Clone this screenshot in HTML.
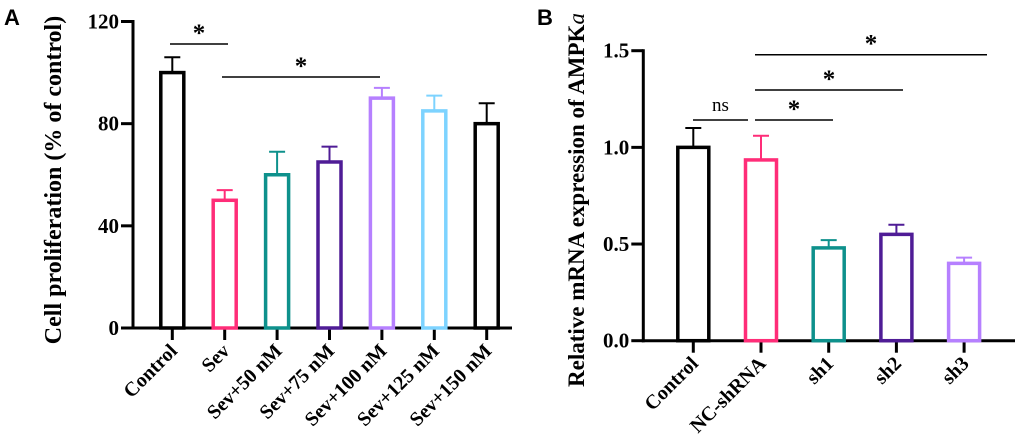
<!DOCTYPE html>
<html><head><meta charset="utf-8"><style>
body{margin:0;background:#fff;width:1020px;height:441px;overflow:hidden}
svg{display:block}
</style></head><body>
<svg id="chart" width="1020" height="441"></svg>
<script>
const catsA=["Control","Sev","Sev+50 nM","Sev+75 nM","Sev+100 nM","Sev+125 nM","Sev+150 nM"];
const valsA=[100,50,60,65,90,85,80];
const errA=[6,4,9,6,4,6,8];
const colorsA=["#000","#ff2d78","#0e918c","#4f1c96","#b680ff","#7dd3ff","#000"];
const ticksA=[0,40,80,120];
const catsB=["Control","NC-shRNA","sh1","sh2","sh3"];
const valsB=[1.0,0.935,0.48,0.55,0.40];
const errB=[0.10,0.125,0.04,0.05,0.03];
const colorsB=["#000","#ff2d78","#0e918c","#4f1c96","#b680ff"];
const ticksB=[0,0.5,1.0,1.5];
const tickLabelsB=["0.0","0.5","1.0","1.5"];

const svg=document.getElementById('chart');
const NS="http://www.w3.org/2000/svg";
const SERIF='font-family:"Liberation Serif",serif;font-weight:bold;';
function mk(tag,attrs,parent){const e=document.createElementNS(NS,tag);for(const k in attrs)e.setAttribute(k,attrs[k]);(parent||svg).appendChild(e);return e;}

function panel(cfg){
  const g=mk('g',{});
  
  
  const y=v=>cfg.y0-(v-cfg.ymin)/(cfg.ymax-cfg.ymin)*(cfg.y0-cfg.y1);
  const x=i=>cfg.xs+i*cfg.step;
  const ya=mk('line',{x1:cfg.ax,y1:y(cfg.ymax)-1.5,x2:cfg.ax,y2:cfg.y0+1.5,stroke:'#000','stroke-width':3},g);
  
  const xa=mk('line',{x1:cfg.ax-1.5,y1:cfg.y0,x2:cfg.xend,y2:cfg.y0,stroke:'#000','stroke-width':3},g);
  
  cfg.ticks.forEach((t,i)=>{
    mk('line',{x1:cfg.ax-12,y1:y(t),x2:cfg.ax,y2:y(t),stroke:'#000','stroke-width':3},g);
    const tl=mk('text',{x:cfg.ax-14,y:y(t)+7,'text-anchor':'end',style:SERIF+'font-size:21px'},g);
    tl.textContent=cfg.tickLabels?cfg.tickLabels[i]:t;
    
  });
  cfg.cats.forEach((c,i)=>{
    const cx=x(i);
    mk('line',{x1:cx,y1:cfg.y0,x2:cx,y2:cfg.y0+12,stroke:'#000','stroke-width':3},g);
    const top=y(cfg.vals[i]), et=y(cfg.vals[i]+cfg.err[i]);
    mk('line',{x1:cx,y1:top,x2:cx,y2:et,stroke:cfg.colors[i],'stroke-width':2},g);
    mk('line',{x1:cx-8,y1:et,x2:cx+8,y2:et,stroke:cfg.colors[i],'stroke-width':2},g);
    const b=mk('rect',{x:cx-cfg.bw/2,y:top,width:cfg.bw,height:cfg.y0-top,fill:'#fff',stroke:cfg.colors[i],'stroke-width':3.5},g);
    
    
    const tx=cx+6,ty=cfg.y0+24;
    const l=mk('text',{x:tx,y:ty,'text-anchor':'end',style:SERIF+'font-size:20px',transform:`rotate(-45 ${tx} ${ty})`},g);
    l.textContent=c;
    
  });
  cfg.sig.forEach(s=>{
    mk('line',{x1:s[0],y1:s[1],x2:s[2],y2:s[1],stroke:'#000','stroke-width':1.5},g);
    const ns=s[3]==='ns';
    const t=mk('text',{x:(s[0]+s[2])/2,y:s[1]-(ns?9:3),'text-anchor':'middle',
      style:'font-family:"Liberation Serif",serif;'+(ns?'font-weight:normal;font-size:19px':'font-weight:bold;font-size:25px')},g);
    t.textContent=s[3];
    
  });
  const yt=mk('text',{x:cfg.titleX,y:cfg.titleY,'text-anchor':'middle',style:SERIF+'font-size:'+cfg.titleSize+'px',transform:`rotate(-90 ${cfg.titleX} ${cfg.titleY})`},g);
  yt.innerHTML=cfg.title;
  
  const pl=mk('text',{x:cfg.lx,y:25,style:'font-family:"Liberation Sans",sans-serif;font-weight:bold;font-size:22px'},g);
  pl.textContent=cfg.letter;
  
}

panel({name:'panel-a',cats:catsA,vals:valsA,err:errA,colors:colorsA,ticks:ticksA,ymin:0,ymax:120,
  y0:328,y1:21.5,ax:133,xend:512,xs:172.3,step:52.4,bw:23,
  sig:[[170,44,228,'*'],[222,77,380,'*']],
  title:'Cell proliferation (% of control)',titleSize:24,titleX:61,titleY:180,lx:4,letter:'A'});
panel({name:'panel-b',cats:catsB,vals:valsB,err:errB,colors:colorsB,ticks:ticksB,tickLabels:tickLabelsB,ymin:0,ymax:1.5,
  y0:340.7,y1:50.7,ax:643.3,xend:1015,xs:693.3,step:67.7,bw:31,
  sig:[[693,120,748,'ns'],[755,120,833,'*'],[755,90,903,'*'],[755,54.7,987,'*']],
  title:'Relative mRNA expression of AMPK<tspan font-style="italic" style="font-weight:normal">a</tspan>',titleSize:23,titleX:584,titleY:200,lx:537,letter:'B'});
</script>
</body></html>
